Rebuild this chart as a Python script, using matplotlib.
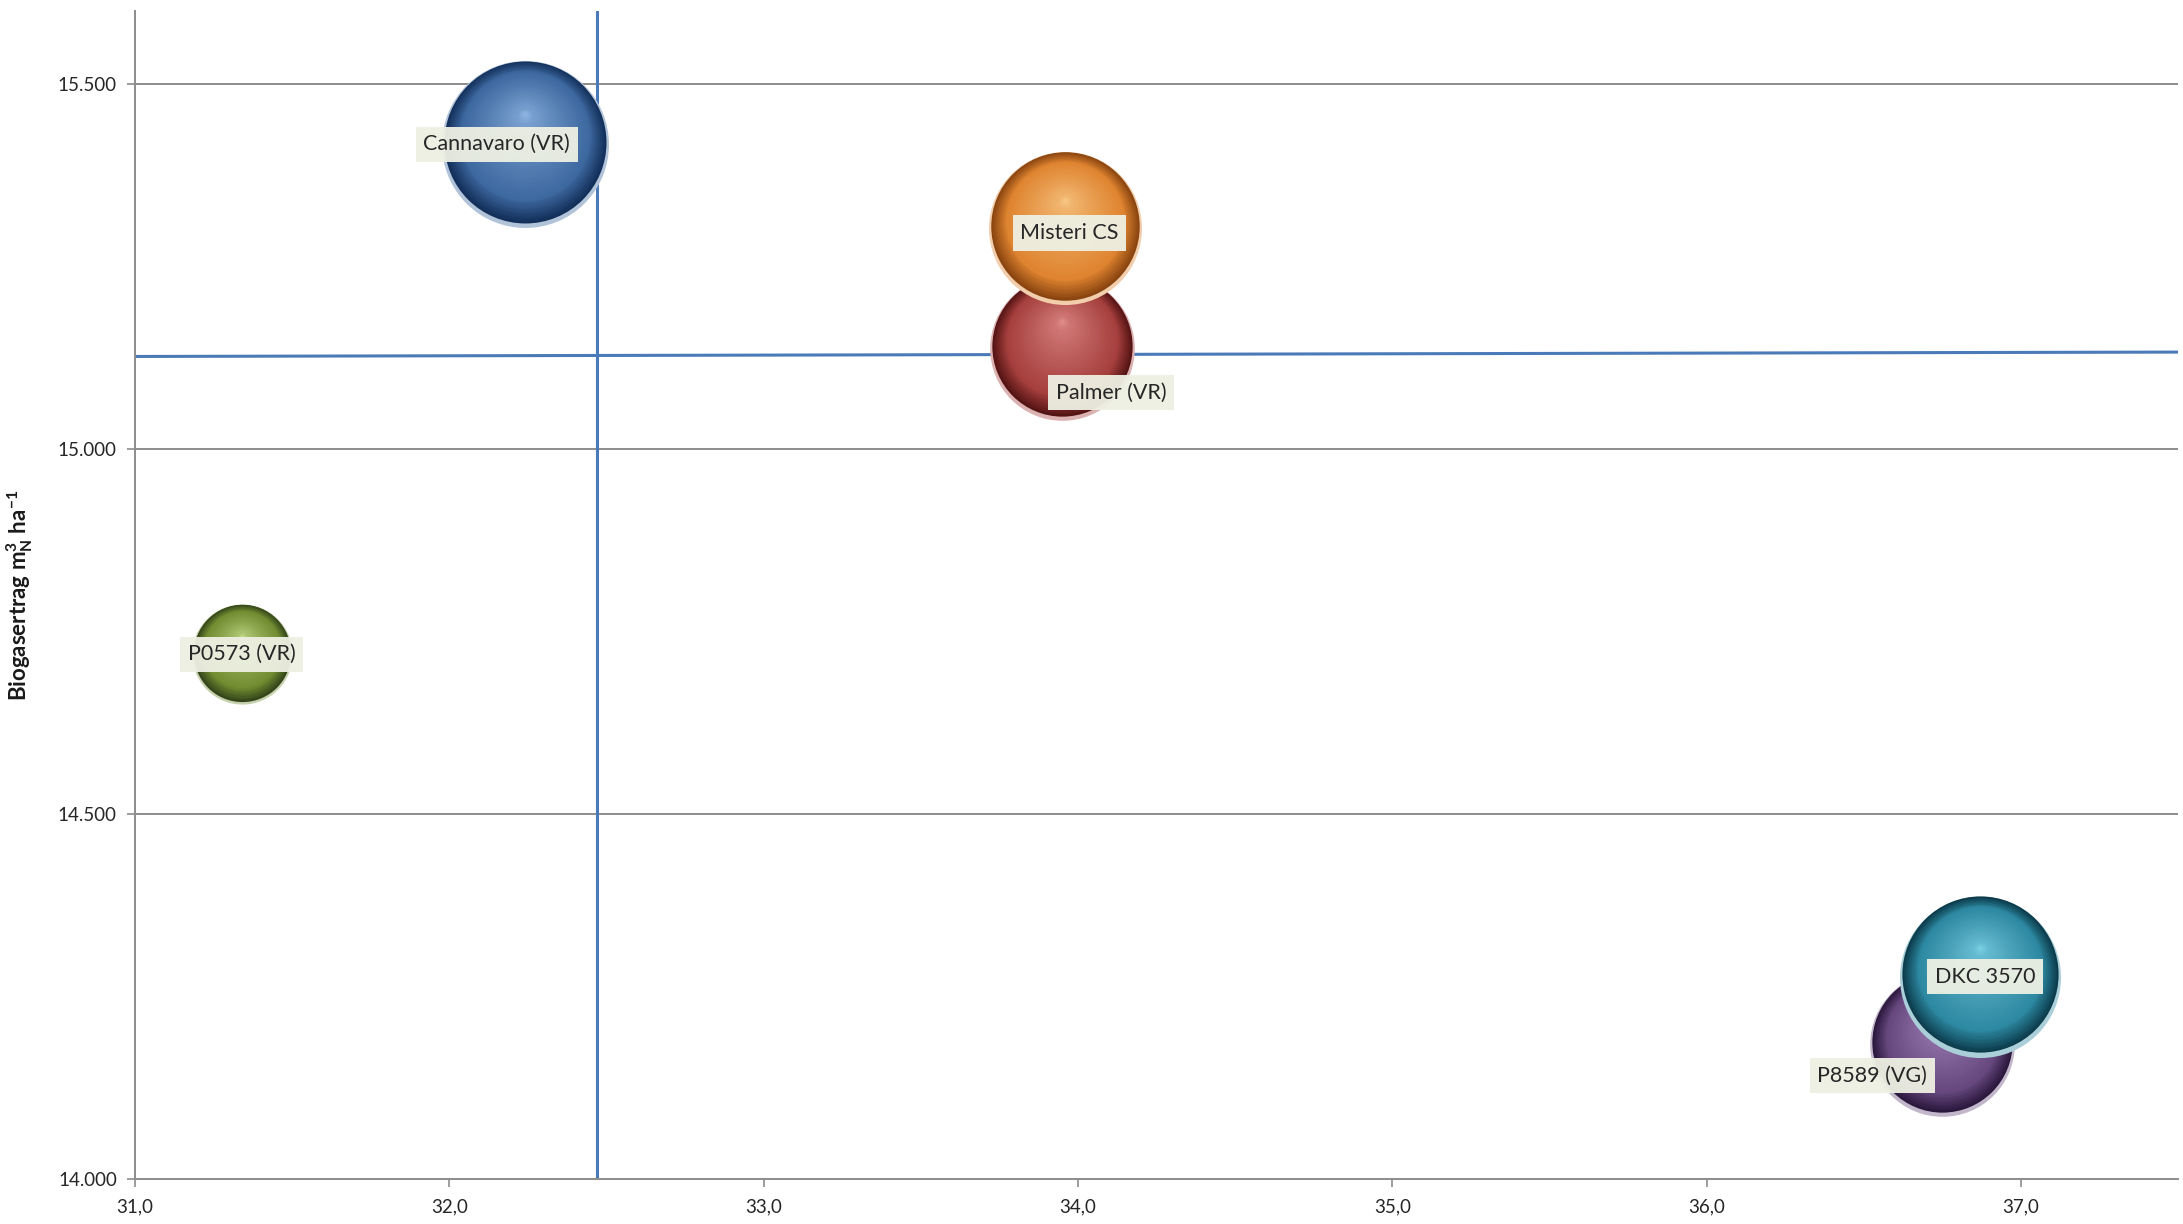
import matplotlib
matplotlib.use('Agg')
import matplotlib.pyplot as plt
import matplotlib.transforms as mtransforms
from matplotlib.colors import LinearSegmentedColormap, to_rgb
from matplotlib.ticker import FuncFormatter, MultipleLocator
import numpy as np

plt.rcParams['font.family'] = ['Lato', 'DejaVu Sans']
plt.rcParams['mathtext.fontset'] = 'custom'
plt.rcParams['mathtext.rm'] = 'Lato'
plt.rcParams['mathtext.bf'] = 'Lato:bold'

# data
sorten = ['Cannavaro (VR)', 'Misteri CS', 'Palmer (VR)', 'P0573 (VR)', 'DKC 3570', 'P8589 (VG)']
x_werte = [32.24, 33.96, 33.95, 31.34, 36.87, 36.75]
y_werte = [15418, 15303, 15139, 14719, 14277, 14185]
blasen = [100, 84, 75, 36, 93, 75]          # relative bubble size (area)
x_mittel = 32.47
y_mittel = 15130

farben = {
    'Cannavaro (VR)': ('#13305a', '#3d68a0', '#a8cdf5'),
    'Misteri CS': ('#8a4510', '#df8430', '#ffdca0'),
    'Palmer (VR)': ('#551414', '#a53f3d', '#f3a6a4'),
    'P0573 (VR)': ('#34451a', '#718c31', '#dcf3a4'),
    'DKC 3570': ('#0c3c4c', '#2d88a1', '#92e4f8'),
    'P8589 (VG)': ('#2b183d', '#66487e', '#c7a6de'),
}
# label offset in pixels (dx, dy) relative to bubble centre
label_off = {
    'Cannavaro (VR)': (-28, 0),
    'Misteri CS': (4, -5),
    'Palmer (VR)': (49, -45),
    'P0573 (VR)': (0, 0),
    'DKC 3570': (5, 0),
    'P8589 (VG)': (-70, -32),
}

DPI = 100
fig = plt.figure(figsize=(21.83, 12.24), dpi=DPI)
ax = fig.add_axes([0.0618, 0.0368, 0.936, 0.954])

ax.set_xlim(31.0, 37.5)
ax.set_ylim(14000, 15600)

grau = '#8c8c8c'
for yy in [14500, 15000, 15500]:
    ax.axhline(yy, color=grau, lw=1.4, zorder=1)

ax.axvline(x_mittel, color='#4a7ab8', lw=2.2, zorder=2)
ax.plot([31.0, 37.5], [y_mittel - 3, y_mittel + 3], color='#4a7ab8', lw=2.2, zorder=2)

R_MAX = 83.5  # px radius of largest bubble
px2pt = 72.0 / DPI


def mix(a, b, w):
    return tuple((1 - w) * np.array(to_rgb(a)) + w * np.array(to_rgb(b)))


def kugel(x, y, r_px, dunkel, basis, hell, z):
    cmap = LinearSegmentedColormap.from_list(
        'k', [(0.0, dunkel), (0.2, basis), (0.6, mix(basis, hell, 0.3)),
              (0.9, mix(basis, hell, 0.55)), (1.0, mix(basis, hell, 0.8))])
    rim = mix(basis, '#ffffff', 0.6)
    d_pt = 2 * r_px * px2pt
    ax.scatter([x], [y], s=d_pt ** 2, color=[rim], linewidths=0, zorder=z)
    a = 0.03
    R = r_px * (1 - a)
    c0 = r_px * a
    h = 0.35 * R
    n = 50
    for i in range(n):
        t = i / n
        r = R * (1 - t)
        dy = (c0 + t * h) * px2pt
        tr = mtransforms.offset_copy(ax.transData, fig=fig, x=0, y=dy, units='points')
        ax.scatter([x], [y], s=(2 * r * px2pt) ** 2, color=[cmap(t)],
                   linewidths=0, transform=tr, zorder=z)


reihenfolge = np.argsort(blasen, kind='stable')
for k, i in enumerate(reihenfolge):
    name = sorten[i]
    r_px = R_MAX * np.sqrt(blasen[i] / 100.0)
    d, b, h = farben[name]
    kugel(x_werte[i], y_werte[i], r_px, d, b, h, 3 + k)

for i, name in enumerate(sorten):
    dx, dy = label_off[name]
    ax.annotate(name, (x_werte[i], y_werte[i]), xytext=(dx * px2pt, dy * px2pt),
                textcoords='offset points', ha='center', va='center',
                fontsize=15.5, color='#262626', zorder=20,
                bbox=dict(boxstyle='square,pad=0.35', fc='#eef0e3', ec='none', alpha=0.95))

for side in ['top', 'right']:
    ax.spines[side].set_visible(False)
for side in ['left', 'bottom']:
    ax.spines[side].set_color(grau)
    ax.spines[side].set_linewidth(1.4)

ax.xaxis.set_major_locator(MultipleLocator(1.0))
ax.yaxis.set_major_locator(MultipleLocator(500))
ax.xaxis.set_major_formatter(FuncFormatter(lambda v, p: f'{v:.1f}'.replace('.', ',')))
ax.yaxis.set_major_formatter(FuncFormatter(lambda v, p: f'{int(v):,}'.replace(',', '.')))
ax.tick_params(axis='both', direction='out', length=6, width=1.2, color=grau,
               labelsize=13.5, labelcolor='#262626')
ax.tick_params(axis='y', pad=7)
ax.tick_params(axis='x', pad=8)

ax.set_ylabel(r'Biogasertrag m$^{\mathbf{3}}_{\mathbf{N}}$ ha$^{\mathbf{-1}}$',
              fontsize=16, fontweight='bold', color='#1a1a1a')
ax.yaxis.set_label_coords(-0.049, 0.5)

fig.savefig('out.png', dpi=DPI)
